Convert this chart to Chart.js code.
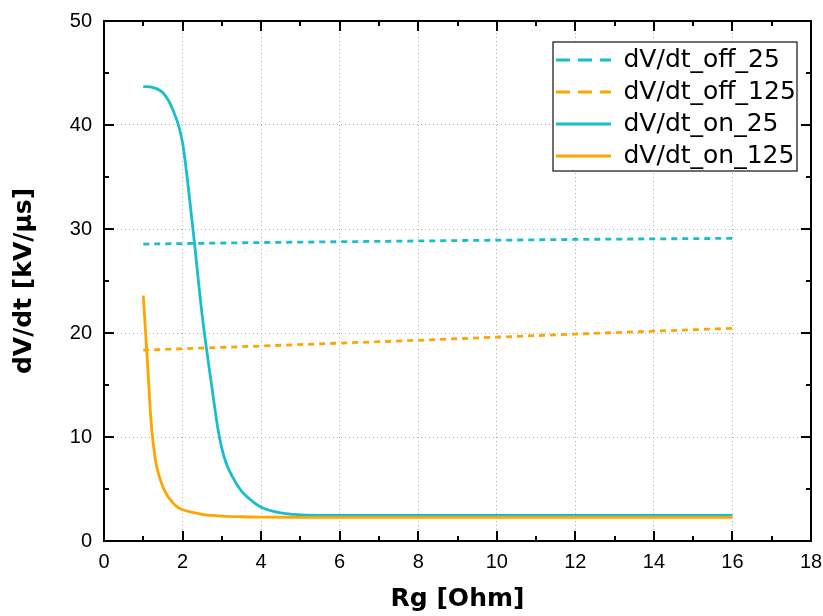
<!DOCTYPE html>
<html>
<head>
<meta charset="utf-8">
<script src="https://cdn.jsdelivr.net/npm/chart.js@4"></script>
<style>
  html, body { margin: 0; padding: 0; background: #fff; }
  #wrap { width: 823px; height: 616px; }
</style>
</head>
<body>
<div id="wrap"><canvas id="graficoDvDt" width="823" height="616"></canvas></div>
<script>
// series names (legend order)
var nomesSeries = ['dV/dt_off_25', 'dV/dt_off_125', 'dV/dt_on_25', 'dV/dt_on_125'];

// turn-off curves (almost straight)
var rgOff = [1, 4, 8, 12, 16];
var dvdtOff25 = [28.55, 28.7, 28.85, 29.0, 29.1];
var dvdtOff125 = [18.35, 18.75, 19.3, 19.9, 20.45];

// turn-on curves
var rgOn25 = [1, 1.25, 1.5, 1.75, 2, 2.25, 2.5, 2.75, 2.9, 3, 3.1, 3.25, 3.5, 3.75, 4, 4.5, 5, 6, 8, 10, 12, 14, 16];
var dvdtOn25 = [43.7, 43.6, 43.1, 41.5, 38.3, 30.5, 21.7, 14.7, 10.8, 8.9, 7.6, 6.3, 4.8, 3.9, 3.25, 2.7, 2.52, 2.45, 2.45, 2.45, 2.45, 2.45, 2.45];
var rgOn125 = [1, 1.1, 1.2, 1.3, 1.4, 1.5, 1.6, 1.7, 1.8, 1.9, 2, 2.25, 2.5, 3, 3.5, 4, 5, 6, 8, 10, 12, 14, 16];
var dvdtOn125 = [23.6, 17.6, 11.4, 8.0, 6.3, 5.2, 4.45, 3.9, 3.48, 3.2, 3.0, 2.75, 2.57, 2.4, 2.33, 2.3, 2.28, 2.27, 2.27, 2.27, 2.27, 2.27, 2.27];

// axis ticks
var xTicks = [0, 2, 4, 6, 8, 10, 12, 14, 16, 18];
var xMinor = [1, 3, 5, 7, 9, 11, 13, 15, 17];
var yTicks = [0, 10, 20, 30, 40, 50];
var yMinor = [5, 15, 25, 35, 45];

var corCiano = '#17bece';
var corLaranja = '#ffa500';

function pontos(xs, ys)
{
    return xs.map(function (x, i) { return { x: x, y: ys[i] }; });
}

// inward ticks, top/right frame and boxed legend (Origin style)
var molduraPlugin = {
    id: 'moldura',
    afterLayout: function (chart)
    {
        var lg = chart.legend;
        var a = chart.chartArea;
        lg.left = a.right - 262;
        lg.top = a.top + 19.5;
        lg.right = a.right;
        lg.bottom = a.bottom;
        lg.width = lg.right - lg.left;
        lg.height = lg.bottom - lg.top;
    },
    afterDatasetsDraw: function (chart)
    {
        var ctx = chart.ctx;
        var a = chart.chartArea;
        var sx = chart.scales.x;
        var sy = chart.scales.y;
        ctx.save();
        ctx.strokeStyle = '#000';
        ctx.lineWidth = 2;
        ctx.beginPath();
        ctx.moveTo(a.left, a.top);
        ctx.lineTo(a.right, a.top);
        ctx.lineTo(a.right, a.bottom);
        function marcaX(v, len)
        {
            var px = Math.round(sx.getPixelForValue(v));
            ctx.moveTo(px, a.bottom); ctx.lineTo(px, a.bottom - len);
            ctx.moveTo(px, a.top); ctx.lineTo(px, a.top + len);
        }
        function marcaY(v, len)
        {
            var py = Math.round(sy.getPixelForValue(v));
            ctx.moveTo(a.left, py); ctx.lineTo(a.left + len, py);
            ctx.moveTo(a.right, py); ctx.lineTo(a.right - len, py);
        }
        xTicks.forEach(function (v) { marcaX(v, 10); });
        xMinor.forEach(function (v) { marcaX(v, 5); });
        yTicks.forEach(function (v) { marcaY(v, 10); });
        yMinor.forEach(function (v) { marcaY(v, 5); });
        ctx.stroke();
        ctx.restore();
    },
    afterDraw: function (chart)
    {
        var ctx = chart.ctx;
        var lg = chart.legend;
        var bx = lg.left + 4, by = lg.top + 1.5, bw = 244, bh = 129;
        ctx.save();
        ctx.fillStyle = '#fff';
        ctx.fillRect(bx, by, bw, bh);
        ctx.strokeStyle = '#222';
        ctx.lineWidth = 1.3;
        ctx.strokeRect(bx, by, bw, bh);
        ctx.restore();
        lg.draw();
    }
};

Chart.defaults.color = '#000';

var ctxGrafico = document.getElementById('graficoDvDt');
var graficoDvDt = new Chart(ctxGrafico, {
    type: 'line',
    data: {
        datasets: [
            {
                label: nomesSeries[0],
                data: pontos(rgOff, dvdtOff25),
                borderColor: corCiano,
                backgroundColor: corCiano,
                borderWidth: 2.8,
                borderDash: [6, 5],
                pointRadius: 0,
                order: 1
            },
            {
                label: nomesSeries[1],
                data: pontos(rgOff, dvdtOff125),
                borderColor: corLaranja,
                backgroundColor: corLaranja,
                borderWidth: 2.8,
                borderDash: [6, 5],
                pointRadius: 0,
                order: 1
            },
            {
                label: nomesSeries[2],
                data: pontos(rgOn25, dvdtOn25),
                borderColor: corCiano,
                backgroundColor: corCiano,
                borderWidth: 2.8,
                cubicInterpolationMode: 'monotone',
                pointRadius: 0,
                order: 1
            },
            {
                label: nomesSeries[3],
                data: pontos(rgOn125, dvdtOn125),
                borderColor: corLaranja,
                backgroundColor: corLaranja,
                borderWidth: 2.8,
                cubicInterpolationMode: 'monotone',
                pointRadius: 0,
                order: 0
            }
        ]
    },
    options: {
        responsive: false,
        animation: false,
        layout: { padding: { left: 0, right: 12, top: 21, bottom: 0 } },
        plugins: {
            tooltip: { enabled: false },
            legend: {
                position: 'chartArea',
                align: 'start',
                labels: {
                    font: { family: "'DejaVu Sans', sans-serif", size: 25 },
                    color: '#000',
                    padding: 7,
                    boxWidth: 55,
                    usePointStyle: true,
                    pointStyle: 'line',
                    pointStyleWidth: 55,
                    sort: function (a, b) { return a.datasetIndex - b.datasetIndex; },
                    generateLabels: function (chart)
                    {
                        var itens = Chart.defaults.plugins.legend.labels.generateLabels(chart);
                        itens.forEach(function (it) {
                            var ds = chart.data.datasets[it.datasetIndex];
                            it.strokeStyle = ds.borderColor;
                            it.lineWidth = 3;
                            it.lineDash = ds.borderDash ? [14, 8] : [];
                        });
                        return itens;
                    }
                }
            }
        },
        scales: {
            x: {
                type: 'linear',
                min: 0,
                max: 18,
                afterBuildTicks: function (scale) { scale.ticks = xTicks.map(function (v) { return { value: v }; }); },
                afterFit: function (scale) { scale.height = 75; scale.paddingLeft = 0; scale.paddingRight = 0; },
                ticks: {
                    padding: 9,
                    font: { family: "'Liberation Sans', Arial, sans-serif", size: 20 },
                    color: '#000'
                },
                grid: { color: '#b0b0b0', lineWidth: 1, drawTicks: false },
                border: { display: true, color: '#000', width: 2, dash: [1, 3] },
                title: {
                    display: true,
                    text: 'Rg [Ohm]',
                    color: '#000',
                    font: { family: "'DejaVu Sans', sans-serif", size: 25, weight: 'bold' },
                    padding: { top: 0, bottom: 2 }
                }
            },
            y: {
                type: 'linear',
                min: 0,
                max: 50,
                afterBuildTicks: function (scale) { scale.ticks = yTicks.map(function (v) { return { value: v }; }); },
                afterFit: function (scale) { scale.width = 104; scale.paddingTop = 0; scale.paddingBottom = 0; },
                ticks: {
                    padding: 12,
                    font: { family: "'Liberation Sans', Arial, sans-serif", size: 20 },
                    color: '#000'
                },
                grid: { color: '#b0b0b0', lineWidth: 1, drawTicks: false },
                border: { display: true, color: '#000', width: 2, dash: [1, 3] },
                title: {
                    display: true,
                    text: 'dV/dt [kV/μs]',
                    color: '#000',
                    font: { family: "'DejaVu Sans', sans-serif", size: 25, weight: 'bold' },
                    padding: { top: 9, bottom: 0 }
                }
            }
        }
    },
    plugins: [molduraPlugin]
});
</script>
</body>
</html>
